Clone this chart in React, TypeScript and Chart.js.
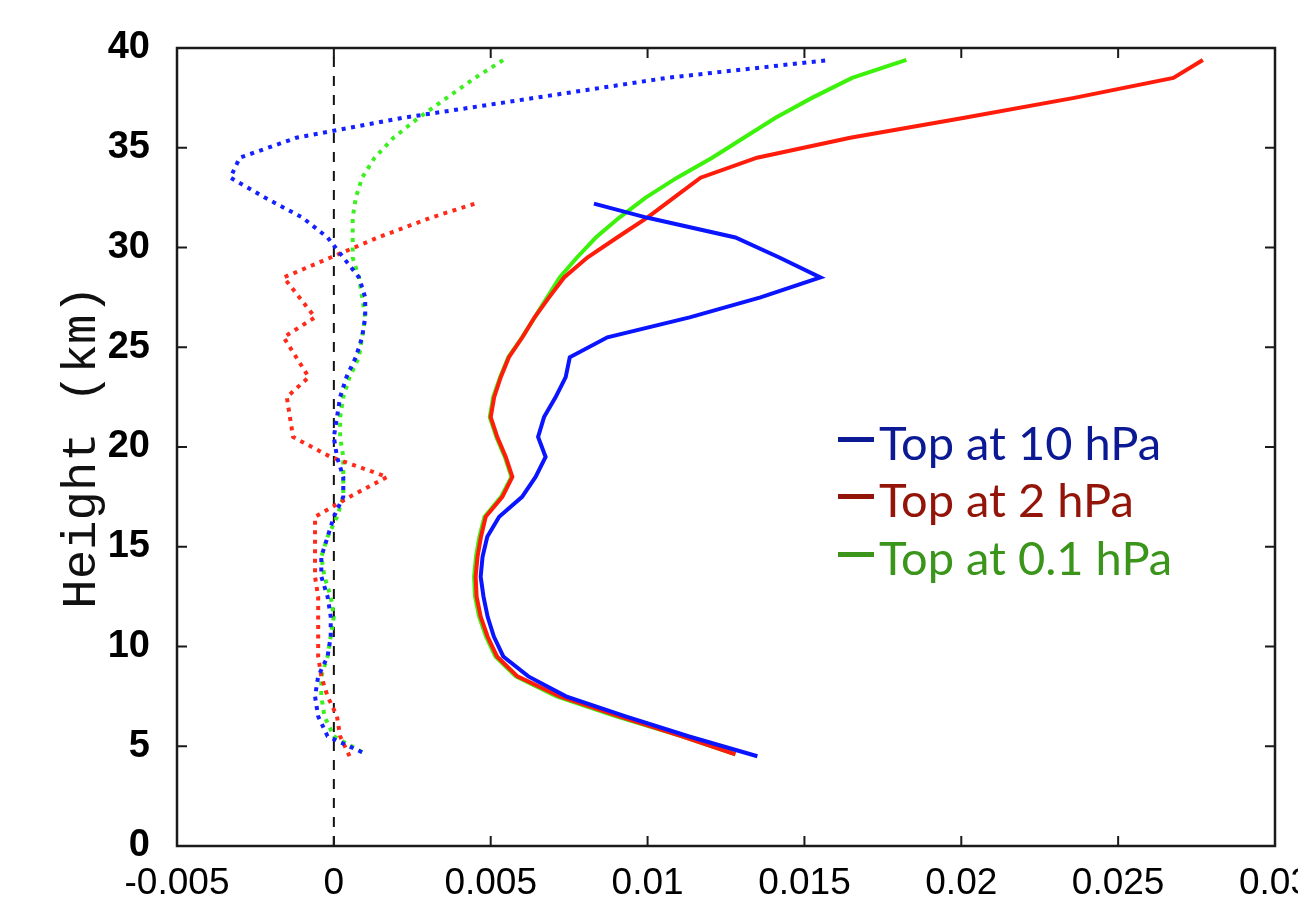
import { useEffect, useRef } from 'react';
import { Chart, registerables } from 'chart.js';

Chart.register(...registerables);

// ---- axis ticks ----
const xTickValues = [-0.005, 0, 0.005, 0.01, 0.015, 0.02, 0.025, 0.03];
const xTickLabels = ['-0.005', '0', '0.005', '0.01', '0.015', '0.02', '0.025', '0.03'];
const yTickValues = [0, 5, 10, 15, 20, 25, 30, 35, 40];
const yTickLabels = ['0', '5', '10', '15', '20', '25', '30', '35', '40'];
const yTitle = 'Height (km)';

// ---- legend ----
const legendLabels = ['Top at 10 hPa', 'Top at 2 hPa', 'Top at 0.1 hPa'];
const legendColors = ['#0b1a94', '#931409', '#3a951a'];

// ---- zero reference line ----
const zeroLineX = [0, 0];
const zeroLineY = [0, 40];

// ---- solid lines ----
const blueSolidH = [4.5, 5.5, 6.5, 7.5, 8.5, 9.5, 10.5, 11.5, 12.5, 13.5, 14.5, 15.5, 16.5, 17.5, 18.5, 19.5, 20.5, 21.5, 22.5, 23.5, 24.5, 25.5, 26.5, 27.5, 28.5, 29.5, 30.5, 31.5, 32.2];
const blueSolidV = [0.0135, 0.0113, 0.0093, 0.0074, 0.0062, 0.0054, 0.0051, 0.0049, 0.00477, 0.00468, 0.00474, 0.00489, 0.00527, 0.006, 0.00643, 0.00675, 0.00651, 0.0067, 0.00707, 0.00739, 0.00752, 0.00872, 0.01134, 0.0136, 0.01551, 0.0142, 0.0128, 0.00997, 0.00829];

const redSolidH = [4.6, 5.5, 6.5, 7.5, 8.5, 9.5, 10.5, 11.5, 12.5, 13.5, 14.5, 15.5, 16.5, 17.5, 18.5, 19.5, 20.5, 21.5, 22.5, 23.5, 24.5, 25.5, 26.5, 27.5, 28.5, 29.5, 30.5, 31.5, 32.5, 33.5, 34.5, 35.5, 36.5, 37.5, 38.5, 39.4];
const redSolidV = [0.0128, 0.0111, 0.0091, 0.0072, 0.00585, 0.0052, 0.0049, 0.00468, 0.00455, 0.00452, 0.00458, 0.00469, 0.00484, 0.00537, 0.00569, 0.00548, 0.00521, 0.005, 0.00511, 0.00532, 0.00558, 0.00601, 0.0064, 0.00686, 0.00734, 0.00808, 0.00903, 0.00999, 0.01084, 0.01169, 0.01349, 0.01646, 0.0201, 0.0236, 0.02676, 0.0277];

const greenSolidH = [4.6, 5.5, 6.5, 7.5, 8.5, 9.5, 10.5, 11.5, 12.5, 13.5, 14.5, 15.5, 16.5, 17.5, 18.5, 19.5, 20.5, 21.5, 22.5, 23.5, 24.5, 25.5, 26.5, 27.5, 28.5, 29.5, 30.5, 31.5, 32.5, 33.5, 34.5, 35.5, 36.5, 37.5, 38.5, 39.4];
const greenSolidV = [0.0128, 0.0111, 0.009, 0.0071, 0.0058, 0.00515, 0.00485, 0.00463, 0.0045, 0.00447, 0.00453, 0.00464, 0.0048, 0.00533, 0.00566, 0.00545, 0.00518, 0.00497, 0.00508, 0.0053, 0.00556, 0.006, 0.0064, 0.0068, 0.0072, 0.00775, 0.00835, 0.0091, 0.00994, 0.01094, 0.01206, 0.01307, 0.01408, 0.01524, 0.01652, 0.01825];

// ---- dotted lines ----
const blueDotH = [4.7, 5.5, 6.5, 7.5, 8.5, 9.5, 10.5, 11.5, 12.5, 13.5, 14.5, 15.5, 16.5, 17.5, 18.5, 19.5, 20.5, 21.5, 22.5, 23.5, 24.5, 25.5, 26.5, 27.5, 28.5, 29.5, 30.5, 31.5, 32.5, 33.5, 34.5, 35.5, 36.5, 37.5, 38.5, 39.4];
const blueDotV = [0.0009, -0.0002, -0.0005, -0.0006, -0.0005, -0.0002, -0.0001, -0.0001, -0.0002, -0.0004, -0.0004, -0.0002, 0.0, 0.0003, 0.0003, 0.0001, 0.0, 0.0001, 0.0002, 0.0004, 0.0007, 0.0009, 0.001, 0.001, 0.0008, 0.0003, -0.0002, -0.001, -0.0022, -0.0033, -0.003, -0.0012, 0.0022, 0.0064, 0.0106, 0.0158];

const redDotH = [4.5, 5.5, 6.5, 7.5, 8.5, 9.5, 10.5, 11.5, 12.5, 13.5, 14.5, 15.5, 16.5, 17.5, 18.5, 19.5, 20.5, 21.5, 22.5, 23.5, 24.5, 25.5, 26.5, 27.5, 28.5, 29.5, 30.5, 31.5, 32.2];
const redDotV = [0.0005, 0.0002, 0.0001, -0.0002, -0.0004, -0.0005, -0.0005, -0.0005, -0.0005, -0.0006, -0.0006, -0.0006, -0.0006, 0.0005, 0.0017, -0.0001, -0.0013, -0.0014, -0.0015, -0.0008, -0.0012, -0.0016, -0.0006, -0.0011, -0.0016, -0.0001, 0.0014, 0.0031, 0.0045];

const greenDotH = [4.7, 5.5, 6.5, 7.5, 8.5, 9.5, 10.5, 11.5, 12.5, 13.5, 14.5, 15.5, 16.5, 17.5, 18.5, 19.5, 20.5, 21.5, 22.5, 23.5, 24.5, 25.5, 26.5, 27.5, 28.5, 29.5, 30.5, 31.5, 32.5, 33.5, 34.5, 35.5, 36.5, 37.5, 38.5, 39.4];
const greenDotV = [0.0009, 0.0, -0.0003, -0.0004, -0.0004, -0.0002, -0.0001, 0.0, -0.0001, -0.0003, -0.0004, -0.0002, 0.0001, 0.0003, 0.0003, 0.0003, 0.0002, 0.0002, 0.0003, 0.0005, 0.0008, 0.0009, 0.001, 0.0009, 0.0008, 0.0006, 0.0006, 0.0006, 0.0007, 0.0009, 0.0013, 0.0019, 0.0027, 0.0036, 0.0045, 0.0054];

const toPoints = (xs: number[], ys: number[]) => xs.map((x, i) => ({ x, y: ys[i] }));

const framePlugin = {
  id: 'frame',
  afterDatasetsDraw(chart: any) {
    const { ctx, chartArea, scales } = chart;
    const { left, right, top, bottom } = chartArea;
    ctx.save();
    ctx.strokeStyle = '#1a1a1a';
    ctx.lineWidth = 2;
    const tl = 10;
    ctx.beginPath();
    xTickValues.forEach((v) => {
      const px = scales.x.getPixelForValue(v);
      ctx.moveTo(px, bottom);
      ctx.lineTo(px, bottom - tl);
      ctx.moveTo(px, top);
      ctx.lineTo(px, top + tl);
    });
    yTickValues.forEach((v) => {
      const py = scales.y.getPixelForValue(v);
      ctx.moveTo(left, py);
      ctx.lineTo(left + tl, py);
      ctx.moveTo(right, py);
      ctx.lineTo(right - tl, py);
    });
    ctx.stroke();
    ctx.lineWidth = 2.5;
    ctx.strokeRect(left, top, right - left, bottom - top);

    // legend
    ctx.font = '47px Lato, "Open Sans", sans-serif';
    ctx.textBaseline = 'alphabetic';
    ctx.textAlign = 'left';
    const baseX = 838;
    const baseY = [460, 517, 575];
    legendLabels.forEach((label, i) => {
      ctx.fillStyle = legendColors[i];
      ctx.fillRect(baseX, baseY[i] - 23, 36, 5);
      ctx.fillText(label, baseX + 41, baseY[i]);
    });
    ctx.restore();
  },
};

export default function App() {
  const canvasRef = useRef<HTMLCanvasElement | null>(null);

  useEffect(() => {
    if (!canvasRef.current) return;
    const solid = (label: string, xs: number[], ys: number[], color: string) => ({
      label,
      data: toPoints(xs, ys),
      showLine: true,
      borderColor: color,
      backgroundColor: color,
      borderWidth: 4,
      pointRadius: 0,
      tension: 0,
      fill: false,
    });
    const dotted = (label: string, xs: number[], ys: number[], color: string) => ({
      ...solid(label, xs, ys, color),
      borderWidth: 4,
      borderDash: [4, 5.5],
      borderCapStyle: 'butt',
    });

    const chart = new Chart(canvasRef.current, {
      type: 'scatter',
      data: {
        datasets: [
          solid(legendLabels[0], blueSolidV, blueSolidH, '#0a14ff'),
          solid(legendLabels[1], redSolidV, redSolidH, '#ff1c0a'),
          solid(legendLabels[2], greenSolidV, greenSolidH, '#3cf20a'),
          dotted('dotted 10 hPa', blueDotV, blueDotH, '#1420ff'),
          dotted('dotted 2 hPa', redDotV, redDotH, '#ff2a1a'),
          dotted('dotted 0.1 hPa', greenDotV, greenDotH, '#3cf020'),
          {
            label: 'zero',
            data: toPoints(zeroLineX, zeroLineY),
            showLine: true,
            borderColor: '#111',
            borderWidth: 2,
            borderDash: [10, 9],
            pointRadius: 0,
          },
        ],
      } as any,
      options: {
        animation: false,
        responsive: false,
        layout: { padding: { top: 48, right: 23, left: 0, bottom: 0 } },
        plugins: {
          legend: { display: false },
          tooltip: { enabled: false },
        },
        scales: {
          x: {
            type: 'linear',
            position: 'bottom',
            min: -0.005,
            max: 0.03,
            grid: { display: false, drawTicks: false },
            border: { display: false },
            afterBuildTicks: (s: any) => {
              s.ticks = xTickValues.map((value) => ({ value }));
            },
            afterFit: (s: any) => {
              s.height = 69;
              s.paddingLeft = 0;
              s.paddingRight = 0;
            },
            ticks: {
              autoSkip: false,
              maxRotation: 0,
              minRotation: 0,
              padding: 16,
              color: '#000',
              font: { family: '"Liberation Sans", Arial, sans-serif', size: 37 },
              callback: (_v: any, i: number) => xTickLabels[i],
            },
          },
          y: {
            type: 'linear',
            min: 0,
            max: 40,
            grid: { display: false, drawTicks: false },
            border: { display: false },
            afterBuildTicks: (s: any) => {
              s.ticks = yTickValues.map((value) => ({ value }));
            },
            afterFit: (s: any) => {
              s.width = 177;
              s.paddingTop = 0;
              s.paddingBottom = 0;
            },
            title: {
              display: true,
              text: yTitle,
              color: '#111',
              font: { family: '"Liberation Mono", "DejaVu Sans Mono", monospace', size: 49 },
              padding: { top: 53, bottom: 0 },
            },
            ticks: {
              autoSkip: false,
              padding: 27,
              color: '#000',
              font: { family: '"Liberation Sans", Arial, sans-serif', size: 38, weight: 'bold' },
              callback: (_v: any, i: number) => yTickLabels[i],
            },
          },
        },
      } as any,
      plugins: [framePlugin],
    });
    return () => chart.destroy();
  }, []);

  return (
    <div style={{ position: 'fixed', left: 0, top: 0, width: 1298, height: 915, background: '#fff' }}>
      <canvas ref={canvasRef} width={1298} height={915} style={{ display: 'block' }} />
    </div>
  );
}
